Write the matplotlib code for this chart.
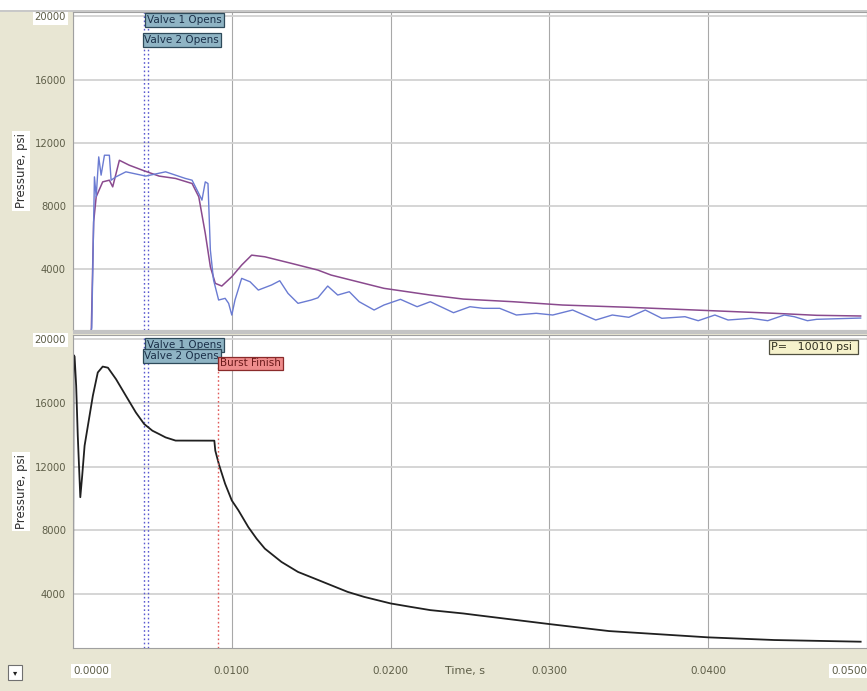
import matplotlib.pyplot as plt
from matplotlib.patches import Rectangle
from matplotlib.transforms import blended_transform_factory

# Burst test record: two valve pressures (top) and chamber pressure (bottom)
valve_blue_t = [0, 0.00112, 0.00118, 0.00135, 0.00146, 0.00162, 0.00177, 0.00198, 0.00229,
                0.0024, 0.0027, 0.00333, 0.00458, 0.00583, 0.00708, 0.0075, 0.00792, 0.00812,
                0.00833, 0.0085, 0.00865, 0.00885, 0.00917, 0.00958, 0.0098, 0.01, 0.0102,
                0.01062, 0.01115, 0.01167, 0.0125, 0.01302, 0.01354, 0.01417, 0.015, 0.01542,
                0.01604, 0.01667, 0.0174, 0.01802, 0.01896, 0.01958, 0.02062, 0.02167, 0.0225,
                0.02396, 0.025, 0.02583, 0.02687, 0.02792, 0.02917, 0.03021, 0.03146, 0.03292,
                0.03396, 0.035, 0.03604, 0.03708, 0.03854, 0.03937, 0.04042, 0.04125, 0.04271,
                0.04375, 0.04479, 0.04542, 0.04625, 0.04683, 0.0496]
valve_blue_p = [0, 0, 300, 9850, 8590, 11115, 9960, 11220, 11220,
                9640, 9850, 10170, 9900, 10170, 9750, 9640, 8800, 8380,
                9535, 9430, 5220, 3325, 2060, 2167, 1850, 1110, 2060,
                3430, 3215, 2690, 3010, 3280, 2480, 1850, 2060, 2200,
                2945, 2375, 2585, 1953, 1428, 1744, 2104, 1637, 1953,
                1258, 1637, 1535, 1535, 1112, 1220, 1112, 1428, 796,
                1112, 967, 1428, 904, 1005, 752, 1112, 796, 904,
                752, 1112, 1005, 752, 840, 920]

valve_purple_t = [0, 0.00115, 0.0013, 0.00146, 0.00187, 0.00229, 0.0025, 0.00292, 0.00354,
                  0.00437, 0.00542, 0.00646, 0.0075, 0.00792, 0.00833, 0.00865, 0.00896,
                  0.00937, 0.01, 0.01062, 0.01125, 0.01208, 0.01375, 0.01542, 0.01625,
                  0.01958, 0.0225, 0.02458, 0.02771, 0.03083, 0.035, 0.03917, 0.04417,
                  0.04683, 0.0496]
valve_purple_p = [0, 0, 7000, 8590, 9535, 9640, 9220, 10900, 10590,
                  10275, 9900, 9750, 9430, 8590, 6275, 4165, 3115,
                  2945, 3535, 4270, 4900, 4795, 4380, 3955, 3640,
                  2800, 2375, 2120, 1953, 1744, 1600, 1428, 1220,
                  1093, 1050]

chamber_t = [0, 0.00003, 0.0001, 0.0002, 0.0003, 0.00046, 0.00058, 0.00073, 0.00125,
             0.00156, 0.00187, 0.0022, 0.00271, 0.00333, 0.00396, 0.00448, 0.005, 0.00542,
             0.00583, 0.00646, 0.0089, 0.00896, 0.0092, 0.00958, 0.01, 0.01042, 0.01104,
             0.01156, 0.01208, 0.01313, 0.01417, 0.01521, 0.01625, 0.01729, 0.01833, 0.02,
             0.02125, 0.0225, 0.02458, 0.0254, 0.03, 0.03375, 0.04, 0.04417, 0.0496]
chamber_p = [0, 19000, 18900, 17060, 13940, 10080, 11440, 13310, 16440,
             17900, 18270, 18200, 17480, 16440, 15390, 14670, 14250, 14040,
             13830, 13630, 13625, 13000, 12100, 10920, 9875, 9250, 8206,
             7480, 6856, 6020, 5394, 4980, 4562, 4145, 3831, 3419,
             3206, 3000, 2790, 2687, 2125, 1687, 1292, 1125, 1020]

valve1_t = 0.00448
valve2_t = 0.00475
burst_t = 0.00915

y_ticks = [4000, 8000, 12000, 16000, 20000]
x_ticks = [0.0, 0.01, 0.02, 0.03, 0.04, 0.05]
x_labels = ['0.0000', '0.0100', '0.0200', '0.0300', '0.0400', '0.0500']

W, H = 867, 691
BEIGE = '#e8e6d3'
TICK_COLOR = '#5e5e48'

fig = plt.figure(figsize=(W / 100, H / 100), dpi=100, facecolor=BEIGE)
plt.rcParams['font.family'] = ['DejaVu Sans']

# white strip along the top and panel separator
fig.patches.append(Rectangle((0, 1 - 10 / H), 1, 10 / H, transform=fig.transFigure,
                             facecolor='white', edgecolor='none', zorder=0))
fig.patches.append(Rectangle((73 / W, 1 - 334 / H), 1, 4 / H, transform=fig.transFigure,
                             facecolor='#c4c4c4', edgecolor='none', zorder=5))
fig.patches.append(Rectangle((0, 1 - 12 / H), 1, 2 / H, transform=fig.transFigure,
                             facecolor='#c8c8c8', edgecolor='none', zorder=5))

left = 73 / W
ax_top = fig.add_axes([left, 1 - 330 / H, 1 - left, 318 / H])
ax_bot = fig.add_axes([left, 1 - 648 / H, 1 - left, 313 / H])

box_style = dict(boxstyle='square,pad=0.18', linewidth=0.9)

for ax in (ax_top, ax_bot):
    ax.set_facecolor('white')
    ax.set_xlim(0, 0.0496)
    ax.set_yticks(y_ticks)
    ax.set_xticks(x_ticks)
    ax.grid(axis='y', color='#d2d2d2', linewidth=1.3)
    ax.grid(axis='x', color='#a8a8a8', linewidth=0.8)
    ax.set_axisbelow(True)
    for s in ax.spines.values():
        s.set_color('#a0a0a0')
        s.set_linewidth(0.8)
    ax.tick_params(axis='both', length=0, labelcolor=TICK_COLOR)
    ax.tick_params(axis='y', pad=5, labelsize=7.2)
    ax.tick_params(axis='x', labelsize=7.5)
    ax.set_yticklabels([f'{v}' for v in y_ticks])
    ax.get_yticklabels()[-1].set_bbox(dict(facecolor='white', edgecolor='none', pad=1.5))
    ax.axvline(valve1_t, color='#5a5ad0', linestyle=(0, (1.2, 1.8)), linewidth=1.0)
    ax.axvline(valve2_t, color='#5a5ad0', linestyle=(0, (1.2, 1.8)), linewidth=1.0)
    ax.set_ylabel('Pressure, psi', fontsize=8.5, color='#303030', labelpad=5,
                  bbox=dict(facecolor='white', edgecolor='none', pad=1.5))

ax_top.set_ylim(164, 20280)
ax_bot.set_ylim(625, 20250)

ax_top.plot(valve_purple_t, valve_purple_p, color='#8a4a8e', linewidth=1.1)
ax_top.plot(valve_blue_t, valve_blue_p, color='#6a7bd2', linewidth=1.0)
ax_top.tick_params(axis='x', labelbottom=False)

ax_bot.plot(chamber_t, chamber_p, color='#202020', linewidth=1.3)
ax_bot.axvline(burst_t, color='#e05a5a', linestyle=(0, (1.2, 1.8)), linewidth=1.0)

# x tick labels sit in the beige strip under the lower panel
ax_bot.set_xticklabels(x_labels)
ax_bot.tick_params(axis='x', pad=13)
xl = ax_bot.get_xticklabels()
xl[0].set_horizontalalignment('left')
xl[0].set_bbox(dict(facecolor='white', edgecolor='none', pad=1.5))
xl[-1].set_horizontalalignment('right')
xl[-1].set_bbox(dict(facecolor='white', edgecolor='none', pad=1.5))
ax_bot.text(0.0247, -0.075, 'Time, s', transform=blended_transform_factory(ax_bot.transData, ax_bot.transAxes),
            fontsize=8, color=TICK_COLOR, ha='center', va='center', clip_on=False)

# event markers
valve_box = dict(box_style, facecolor='#8fb4c4', edgecolor='#2e4a5a')
burst_box = dict(box_style, facecolor='#ee8c8c', edgecolor='#8a2a2a')

tt = blended_transform_factory(ax_top.transData, ax_top.transAxes)
ax_top.text(0.00468, 0.990, 'Valve 1 Opens', transform=tt, fontsize=7.5, color='#1a2f48',
            ha='left', va='top', bbox=valve_box)
ax_top.text(0.00450, 0.928, 'Valve 2 Opens', transform=tt, fontsize=7.5, color='#1a2f48',
            ha='left', va='top', bbox=valve_box)

tb = blended_transform_factory(ax_bot.transData, ax_bot.transAxes)
ax_bot.text(0.00468, 0.985, 'Valve 1 Opens', transform=tb, fontsize=7.5, color='#1a2f48',
            ha='left', va='top', bbox=valve_box)
ax_bot.text(0.00450, 0.950, 'Valve 2 Opens', transform=tb, fontsize=7.5, color='#1a2f48',
            ha='left', va='top', bbox=valve_box)
ax_bot.text(0.00925, 0.925, 'Burst Finish', transform=tb, fontsize=7.5, color='#6a1a1a',
            ha='left', va='top', bbox=burst_box)
ax_bot.text(0.986, 0.978, 'P=   10010 psi ', transform=ax_bot.transAxes, fontsize=8,
            color='#303020', ha='right', va='top',
            bbox=dict(box_style, facecolor='#f6f2cc', edgecolor='#505040'))

# small drop-down button in the lower left corner
fig.patches.append(Rectangle((8 / W, 1 - 680 / H), 14 / W, 15 / H, transform=fig.transFigure,
                             facecolor='white', edgecolor='#707070', linewidth=0.8))
fig.text(15 / W, 1 - 673 / H, '\u25be', fontsize=6, ha='center', va='center', color='#202020')

fig.savefig('out.png', dpi=100, facecolor=BEIGE)
